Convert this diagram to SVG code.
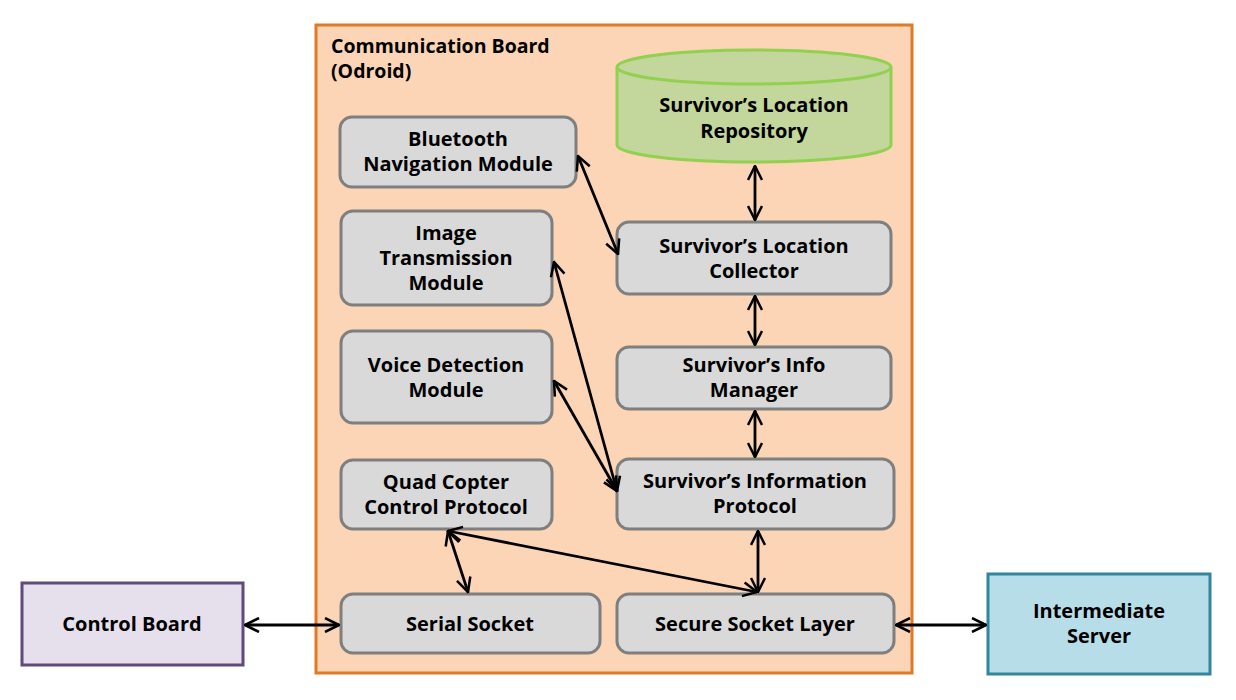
<svg xmlns="http://www.w3.org/2000/svg" width="1236" height="700" viewBox="0 0 1236 700">
<style>
text{font-family:"Open Sans","Liberation Sans",sans-serif;font-weight:bold;font-size:20px;fill:#000;text-anchor:middle}
.n{fill:#D9D9D9;stroke:#7F7F7F;stroke-width:3}
.c line{stroke:#000;stroke-width:2.8;marker-start:url(#a);marker-end:url(#a)}
</style>
<defs>
<marker id="a" viewBox="0 0 12 12" refX="11" refY="6" markerWidth="6" markerHeight="6" markerUnits="strokeWidth" orient="auto-start-reverse">
<path d="M1,1 L11,6 L1,11" fill="none" stroke="#000" stroke-width="1.8"/>
</marker>
</defs>
<rect width="1236" height="700" fill="#fff"/>
<g id="board">
<rect x="316" y="25" width="596" height="648" fill="#FBD5B5" stroke="#E07A27" stroke-width="3"/>
<text x="331" y="53" style="text-anchor:start;font-size:19.5px">Communication Board</text>
<text x="331" y="78" style="text-anchor:start;font-size:19.5px">(Odroid)</text>
</g>
<g id="repository">
<path d="M617,67 L617,145 A137,17 0 0 0 891,145 L891,67" fill="#C3D69B" stroke="#92D050" stroke-width="3"/>
<ellipse cx="754" cy="67" rx="137" ry="17" fill="#C3D69B" stroke="#92D050" stroke-width="3"/>
<text x="754" y="112">Survivor’s Location</text>
<text x="754" y="138">Repository</text>
</g>
<g id="bluetooth"><rect class="n" x="340" y="117" width="236" height="70" rx="12"/><text x="458" y="146">Bluetooth</text><text x="458" y="171">Navigation Module</text></g>
<g id="image"><rect class="n" x="341" y="211" width="211" height="94" rx="12"/><text x="446" y="240">Image</text><text x="446" y="265">Transmission</text><text x="446" y="290">Module</text></g>
<g id="voice"><rect class="n" x="341" y="331" width="211" height="92" rx="12"/><text x="446" y="372">Voice Detection</text><text x="446" y="397">Module</text></g>
<g id="quad"><rect class="n" x="341" y="460" width="211" height="69" rx="12"/><text x="446" y="489">Quad Copter</text><text x="446" y="514">Control Protocol</text></g>
<g id="serial"><rect class="n" x="341" y="594" width="259" height="59" rx="12"/><text x="470" y="631">Serial Socket</text></g>
<g id="collector"><rect class="n" x="617" y="222" width="274" height="72" rx="12"/><text x="754" y="253">Survivor’s Location</text><text x="754" y="278">Collector</text></g>
<g id="manager"><rect class="n" x="617" y="347" width="274" height="62" rx="12"/><text x="754" y="372">Survivor’s Info</text><text x="754" y="397">Manager</text></g>
<g id="infoprotocol"><rect class="n" x="617" y="459" width="277" height="70" rx="12"/><text x="755" y="488">Survivor’s Information</text><text x="755" y="513">Protocol</text></g>
<g id="ssl"><rect class="n" x="617" y="594" width="277" height="59" rx="12"/><text x="755" y="631">Secure Socket Layer</text></g>
<g id="controlboard"><rect x="22" y="583" width="221" height="82" fill="#E5E0EC" stroke="#604A7B" stroke-width="3"/><text x="132" y="631">Control Board</text></g>
<g id="server"><rect x="988" y="574" width="222" height="100" fill="#B7DEE8" stroke="#31859C" stroke-width="3"/><text x="1099" y="618">Intermediate</text><text x="1099" y="643">Server</text></g>
<g id="connectors" class="c">
<line x1="578" y1="156" x2="618" y2="254"/>
<line x1="554" y1="262" x2="617" y2="491"/>
<line x1="554" y1="381" x2="617" y2="491"/>
<line x1="755" y1="166" x2="755" y2="220"/>
<line x1="755" y1="296" x2="755" y2="345"/>
<line x1="755" y1="411" x2="755" y2="457"/>
<line x1="758" y1="531" x2="758" y2="592"/>
<line x1="448" y1="531" x2="468" y2="592"/>
<line x1="448" y1="531" x2="757" y2="592"/>
<line x1="245" y1="625" x2="339" y2="625"/>
<line x1="896" y1="625" x2="986" y2="625"/>
</g>
</svg>
